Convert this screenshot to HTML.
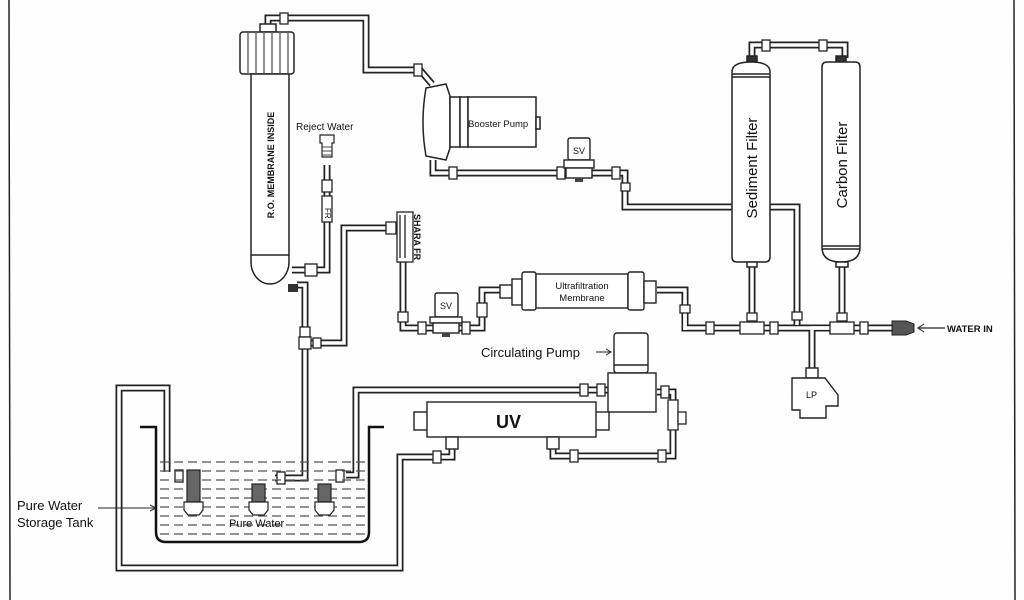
<!DOCTYPE html>
<html><head><meta charset="utf-8"><style>
html,body{margin:0;padding:0;background:#fff;}
svg{display:block;}
text{font-family:"Liberation Sans",sans-serif;fill:#111;}
</style></head><body>
<svg width="1024" height="600" viewBox="0 0 1024 600" xmlns="http://www.w3.org/2000/svg">
<rect width="1024" height="600" fill="#fefefe"/>
<line x1="9" y1="0" x2="10" y2="600" stroke="#222" stroke-width="1.5"/>
<line x1="1014" y1="0" x2="1015" y2="600" stroke="#222" stroke-width="1.5"/>

<!-- PIPES: outer black then inner white -->
<g fill="none" stroke-linejoin="miter">
<g stroke="#222" stroke-width="7">
<path d="M268 28 V18 H366 V70 H420 L432 84"/>
<path d="M433 160 V173 H625 V207 H797 V325"/>
<path d="M752 262 V328 H840 M685 300 V328 H752 M797 328 H752"/>
<path d="M842 262 V328 H912 M830 328 H812 V375"/>
<path d="M775 45 H828 M752 58 V45 H775 M828 45 H845 V58"/>
<path d="M327 165 V270 H292"/>
<path d="M297 285 H305 V478 H275"/>
<path d="M305 343 H344 V228 H395"/>
<path d="M403 262 V328 H482 V290 H502"/>
<path d="M657 290 H685 V330"/>
<path d="M167 472 V388 H119 V568 H400 V457 H452 V437"/>
<path d="M346 475 H356 V390 H610"/>
<path d="M657 392 H673 V456 H553 V437"/>
</g>
<g stroke="#fff" stroke-width="3.5">
<path d="M268 28 V18 H366 V70 H420 L432 84"/>
<path d="M433 160 V173 H625 V207 H797 V325"/>
<path d="M752 262 V328 H840 M685 300 V328 H752 M797 328 H752"/>
<path d="M842 262 V328 H912 M830 328 H812 V375"/>
<path d="M775 45 H828 M752 58 V45 H775 M828 45 H845 V58"/>
<path d="M327 165 V270 H292"/>
<path d="M297 285 H305 V478 H275"/>
<path d="M305 343 H344 V228 H395"/>
<path d="M403 262 V328 H482 V290 H502"/>
<path d="M657 290 H685 V330"/>
<path d="M167 472 V388 H119 V568 H400 V457 H452 V437"/>
<path d="M346 475 H356 V390 H610"/>
<path d="M657 392 H673 V456 H553 V437"/>
</g>
</g>

<!-- fittings -->
<g fill="#fff" stroke="#222" stroke-width="1.3">
<rect x="280" y="13" width="8" height="11"/><rect x="414" y="64" width="8" height="12"/>
<rect x="449" y="167" width="8" height="12"/><rect x="557" y="167" width="8" height="12"/><rect x="612" y="167" width="8" height="12"/>
<rect x="621" y="183" width="9" height="8"/>
<rect x="762" y="40" width="8" height="11"/><rect x="819" y="40" width="8" height="11"/>
<rect x="747" y="313" width="10" height="8"/><rect x="792" y="312" width="10" height="8"/><rect x="837" y="313" width="10" height="8"/>
<rect x="740" y="322" width="24" height="12"/><rect x="830" y="322" width="24" height="12"/>
<rect x="706" y="322" width="8" height="12"/><rect x="770" y="322" width="8" height="12"/><rect x="860" y="322" width="8" height="12"/>
<rect x="680" y="305" width="10" height="8"/>
<rect x="322" y="180" width="10" height="12"/><rect x="322" y="196" width="10" height="26"/>
<rect x="305" y="264" width="12" height="12"/>
<rect x="300" y="327" width="10" height="10"/><rect x="299" y="337" width="12" height="12"/><rect x="313" y="338" width="8" height="10"/>
<rect x="398" y="312" width="10" height="10"/><rect x="418" y="322" width="8" height="12"/><rect x="462" y="322" width="8" height="12"/><rect x="477" y="303" width="10" height="14"/>
<rect x="433" y="451" width="8" height="12"/><rect x="570" y="450" width="8" height="12"/><rect x="658" y="450" width="8" height="12"/>
<rect x="580" y="384" width="8" height="12"/><rect x="597" y="384" width="8" height="12"/>
<rect x="661" y="386" width="8" height="12"/><rect x="668" y="400" width="10" height="30"/><rect x="678" y="412" width="8" height="12"/>
<rect x="175" y="470" width="8" height="12"/><rect x="277" y="472" width="8" height="12"/><rect x="336" y="470" width="8" height="12"/>
</g>

<!-- RO membrane -->
<g fill="#fff" stroke="#222" stroke-width="1.5">
<rect x="260" y="24" width="16" height="8"/>
<rect x="240" y="32" width="54" height="42" rx="3"/>
<path d="M251 74 V262 A19 22 0 0 0 289 262 V74 Z"/>
<line x1="251" y1="255" x2="289" y2="255"/>
</g>
<g stroke="#222" stroke-width="1"><line x1="248" y1="33" x2="248" y2="73"/><line x1="256" y1="33" x2="256" y2="73"/><line x1="264" y1="33" x2="264" y2="73"/><line x1="272" y1="33" x2="272" y2="73"/><line x1="280" y1="33" x2="280" y2="73"/><line x1="288" y1="33" x2="288" y2="73"/></g>
<rect x="288" y="284" width="10" height="8" fill="#333"/>
<text transform="translate(274,165) rotate(-90)" font-size="9" font-weight="bold" text-anchor="middle">R.O. MEMBRANE INSIDE</text>

<!-- reject water -->
<text x="296" y="130" font-size="10">Reject Water</text>
<path d="M320 135 h14 v8 h-2 v14 h-10 v-14 h-2 z" fill="#fff" stroke="#222" stroke-width="1.2"/>
<g stroke="#444"><line x1="322" y1="147" x2="332" y2="147"/><line x1="322" y1="151" x2="332" y2="151"/><line x1="322" y1="155" x2="332" y2="155"/></g>
<text transform="translate(325,208) rotate(90)" font-size="8">FR</text>

<!-- booster pump -->
<g fill="#fff" stroke="#222" stroke-width="1.5">
<path d="M426 88 L446 84 L450 96 V148 L446 160 L426 156 Q420 122 426 88 Z"/>
<rect x="450" y="97" width="10" height="50"/><rect x="460" y="97" width="8" height="50"/>
<rect x="468" y="97" width="68" height="50"/>
<rect x="536" y="117" width="4" height="12"/>
</g>
<text x="468" y="127" font-size="9.5">Booster Pump</text>

<!-- SVs -->
<g fill="#fff" stroke="#222" stroke-width="1.4">
<rect x="568" y="138" width="22" height="22" rx="2"/><rect x="564" y="160" width="30" height="8"/><rect x="566" y="168" width="26" height="10"/>
<rect x="435" y="293" width="23" height="24" rx="2"/><rect x="430" y="317" width="32" height="6"/><rect x="433" y="323" width="26" height="10"/>
</g>
<rect x="575" y="178" width="8" height="4" fill="#444"/><rect x="442" y="333" width="8" height="4" fill="#444"/>
<text x="573" y="154" font-size="9">SV</text><text x="440" y="309" font-size="9">SV</text>

<!-- SHARA FR -->
<g fill="#fff" stroke="#222" stroke-width="1.3">
<rect x="386" y="222" width="10" height="12"/>
<rect x="397" y="212" width="16" height="50"/><line x1="400" y1="215" x2="400" y2="258"/><line x1="405" y1="215" x2="405" y2="258"/>
</g>
<text transform="translate(414,214) rotate(90)" font-size="9" font-weight="bold">SHARA  FR</text>

<!-- UF membrane -->
<g fill="#fff" stroke="#222" stroke-width="1.4">
<rect x="500" y="285" width="12" height="13"/><rect x="512" y="279" width="10" height="26"/>
<rect x="522" y="272" width="14" height="38" rx="2"/><rect x="536" y="274" width="92" height="34"/><rect x="628" y="272" width="16" height="38" rx="2"/>
<rect x="644" y="281" width="12" height="22"/>
</g>
<text x="582" y="289" font-size="9.5" text-anchor="middle">Ultrafiltration</text>
<text x="582" y="301" font-size="9.5" text-anchor="middle">Membrane</text>

<!-- filters -->
<g fill="#fff" stroke="#222" stroke-width="1.5">
<rect x="747" y="56" width="10" height="8" fill="#333"/><rect x="836" y="56" width="10" height="8" fill="#333"/>
<path d="M732 72 Q732 62 751 62 Q770 62 770 72 V257 Q770 262 765 262 H737 Q732 262 732 257 Z"/>
<line x1="732" y1="74" x2="770" y2="74"/><line x1="732" y1="77" x2="770" y2="77"/>
<path d="M822 67 Q822 62 827 62 H855 Q860 62 860 67 V247 Q860 262 841 262 Q822 262 822 247 Z"/>
<line x1="822" y1="246" x2="860" y2="246"/><line x1="822" y1="249" x2="860" y2="249"/>
<rect x="747" y="262" width="10" height="5"/><rect x="836" y="262" width="12" height="5"/>
</g>
<text transform="translate(757,168) rotate(-90)" font-size="15" text-anchor="middle">Sediment Filter</text>
<text transform="translate(847,165) rotate(-90)" font-size="15" text-anchor="middle">Carbon Filter</text>

<!-- water in -->
<path d="M892 321 h14 l8 3 v8 l-8 3 h-14 z" fill="#555" stroke="#222"/>
<line x1="918" y1="328" x2="945" y2="328" stroke="#222" stroke-width="1.2"/>
<path d="M924 324 L918 328 L924 332" fill="none" stroke="#222"/>
<text x="947" y="332" font-size="9.5" font-weight="bold">WATER IN</text>

<!-- LP -->
<g fill="#fff" stroke="#222" stroke-width="1.4">
<rect x="806" y="368" width="12" height="10"/>
<path d="M792 378 H825 L838 395 V406 H826 V418 H800 V410 H792 Z"/>
</g>
<text x="806" y="398" font-size="9">LP</text>

<!-- circulating pump -->
<g fill="#fff" stroke="#222" stroke-width="1.4">
<rect x="614" y="333" width="34" height="40" rx="3"/><line x1="614" y1="365" x2="648" y2="365"/>
<rect x="608" y="373" width="48" height="39"/>
</g>
<text x="481" y="357" font-size="13">Circulating Pump</text>
<line x1="596" y1="352" x2="610" y2="352" stroke="#222"/><path d="M606 349 L611 352 L606 355" fill="none" stroke="#222"/>

<!-- UV -->
<g fill="#fff" stroke="#222" stroke-width="1.4">
<rect x="414" y="412" width="14" height="18"/><rect x="595" y="412" width="14" height="18"/>
<rect x="427" y="402" width="169" height="35"/>
<rect x="446" y="437" width="12" height="12"/><rect x="547" y="437" width="12" height="12"/>
</g>
<text x="496" y="428" font-size="18" font-weight="bold">UV</text>

<!-- tank -->
<g stroke="#555" stroke-width="1.2" stroke-dasharray="9 5">
<line x1="160" y1="462" x2="366" y2="462"/><line x1="160" y1="471" x2="366" y2="471"/><line x1="160" y1="480" x2="366" y2="480"/>
<line x1="160" y1="489" x2="366" y2="489"/><line x1="160" y1="498" x2="366" y2="498"/><line x1="160" y1="507" x2="366" y2="507"/>
<line x1="160" y1="516" x2="366" y2="516"/><line x1="160" y1="525" x2="366" y2="525"/><line x1="160" y1="534" x2="366" y2="534"/>
</g>
<path d="M140 427 H156 V532 Q156 542 166 542 H359 Q369 542 369 532 V427 H384" fill="none" stroke="#111" stroke-width="2.5"/>
<g fill="#fff" stroke="#222" stroke-width="1.2">
<rect x="187" y="470" width="13" height="32" fill="#666"/><path d="M184 502 h19 v8 l-4 5 h-11 l-4 -5 z"/>
<rect x="252" y="484" width="13" height="18" fill="#666"/><path d="M249 502 h19 v8 l-4 5 h-11 l-4 -5 z"/>
<rect x="318" y="484" width="13" height="18" fill="#666"/><path d="M315 502 h19 v8 l-4 5 h-11 l-4 -5 z"/>
</g>
<text x="229" y="527" font-size="11">Pure Water</text>
<text x="17" y="510" font-size="13">Pure Water</text>
<text x="17" y="527" font-size="13">Storage Tank</text>
<line x1="98" y1="508" x2="156" y2="508" stroke="#222"/><path d="M150 505 L156 508 L150 511" fill="none" stroke="#222"/>
</svg>
</body></html>
